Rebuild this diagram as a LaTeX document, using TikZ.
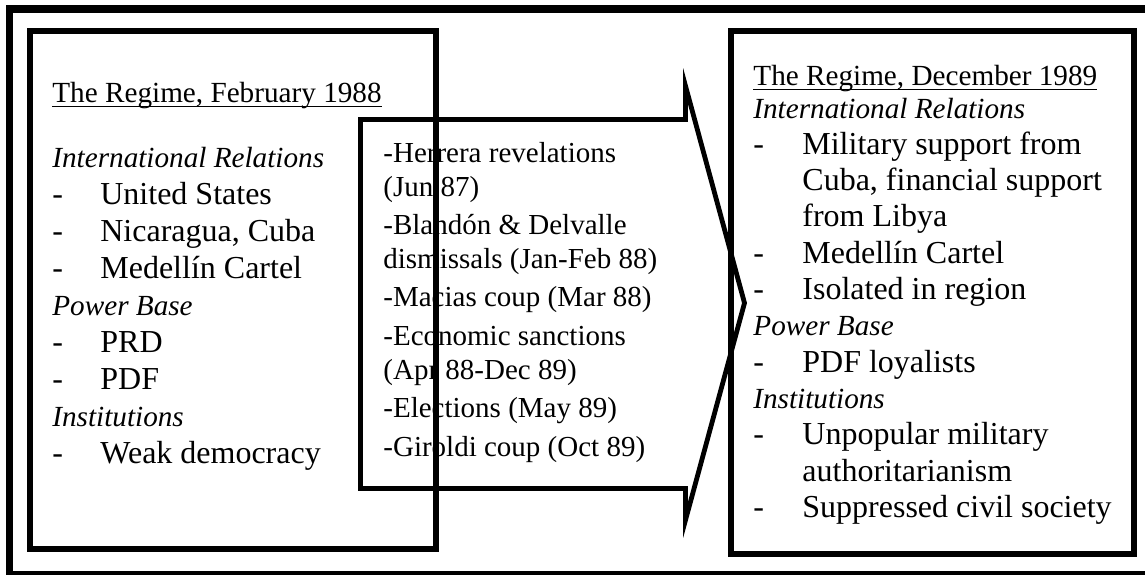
\documentclass[tikz,border=0pt]{standalone}
\usepackage{fontspec}
\setmainfont{Liberation Serif}
\usepackage{array}
\usetikzlibrary{positioning}
% underlined box titles
\newcommand{\regtitle}[1]{\setbox0\hbox{#1}\rlap{\rule[-2.6pt]{\wd0}{0.75pt}}\box0}
\newcommand{\hd}[1]{\multicolumn{2}{@{}l@{}}{\fontsize{14.6}{17}\selectfont\itshape #1}}
\tikzset{
  frameline/.style={draw=black, line width=3.75pt},
  regimebox/.style={draw=black, line width=3pt},
  eventarrow/.style={draw=black, line width=2.4pt, line join=miter},
  titletext/.style={anchor=base west, inner sep=0pt,
                    font=\fontsize{14.6}{17}\selectfont},
  listtext/.style={anchor=base west, inner sep=0pt},
}
\begin{document}
\begin{tikzpicture}[x=0.5pt, y=-0.5pt]
    \useasboundingbox (0,0) rectangle (1145,574);
    % frames
    \draw[frameline] (9.5,9) rectangle (1150,575);
    \draw[regimebox] (30,30.5) rectangle (435.5,548.5);
    \draw[regimebox] (731,30.5) rectangle (1133.5,554);
    \draw[eventarrow] (360.5,119.5) -- (685.5,119.5) -- (685.5,86)
      -- (744.5,303) -- (685.5,520) -- (685.5,488.5) -- (360.5,488.5) -- cycle;

    % before
    \node[titletext] (lefttitle) at (52,102) {\regtitle{The Regime, February 1988}};
    \node[listtext, font=\fontsize{16}{18.5}\selectfont] (leftlist) at (52,167)
      {\begin{tabular}[t]{@{}p{24pt}@{}l@{}}
        \hd{International Relations}\\
        - & United States\\
        - & Nicaragua, Cuba\\
        - & Medellín Cartel\\
        \hd{Power Base}\\
        - & PRD\\
        - & PDF\\
        \hd{Institutions}\\
        - & Weak democracy
      \end{tabular}};

    % events
    \node[listtext, font=\fontsize{14.5}{17}\selectfont] (eventlist) at (383,162)
      {\begin{tabular}[t]{@{}l@{}}
        -Herrera revelations\\
        (Jun 87)\\[2.2pt]
        -Blandón \& Delvalle\\
        dismissals (Jan-Feb 88)\\[2.2pt]
        -Macias coup (Mar 88)\\[2.2pt]
        -Economic sanctions\\
        (Apr 88-Dec 89)\\[2.2pt]
        -Elections (May 89)\\[2.2pt]
        -Giroldi coup (Oct 89)
      \end{tabular}};

    % after
    \node[titletext] (righttitle) at (753,85) {\regtitle{The Regime, December 1989}};
    \node[listtext, font=\fontsize{16}{18.15}\selectfont] (rightlist) at (753,118)
      {\begin{tabular}[t]{@{}p{24.5pt}@{}l@{}}
        \hd{International Relations}\\
        - & Military support from\\
          & Cuba, financial support\\
          & from Libya\\
        - & Medellín Cartel\\
        - & Isolated in region\\
        \hd{Power Base}\\
        - & PDF loyalists\\
        \hd{Institutions}\\
        - & Unpopular military\\
          & authoritarianism\\
        - & Suppressed civil society
      \end{tabular}};
\end{tikzpicture}
\end{document}
